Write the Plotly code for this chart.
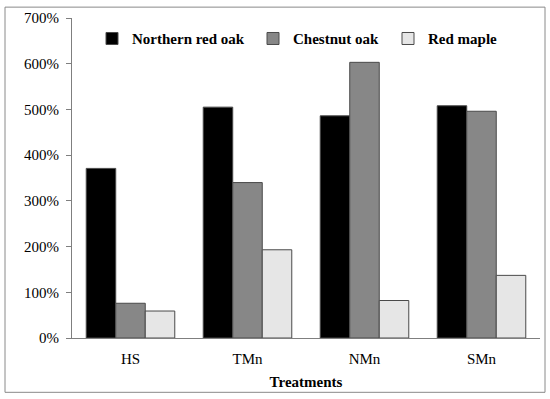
import plotly.graph_objects as go

categories = ["HS", "TMn", "NMn", "SMn"]
northern_red_oak = [371, 505, 486, 508]
chestnut_oak = [76, 340, 603, 496]
red_maple = [59, 193, 82, 137]
y_ticks = [0, 100, 200, 300, 400, 500, 600, 700]
y_tick_labels = [f"{v}%" for v in y_ticks]

FONT = "Liberation Serif"
fig = go.Figure()
series = [
    ("Northern red oak", northern_red_oak, "#000000", "legend"),
    ("Chestnut oak", chestnut_oak, "#878787", "legend2"),
    ("Red maple", red_maple, "#e6e6e6", "legend3"),
]
for name, vals, col, lg in series:
    fig.add_trace(go.Bar(x=categories, y=vals, name=f"<b>{name}</b>", legend=lg, showlegend=True,
                         marker=dict(color=col, line=dict(color="#4a4a4a", width=1))))

# legend text start positions (px) in the reference
text_px = [132, 293, 428]
lx = [(t - 72 - 40) / 468 for t in text_px]
ly = (338 - 35) / 324

def leg(x):
    return dict(x=x, y=ly, orientation="h", yanchor="middle", xanchor="left",
                bgcolor="rgba(0,0,0,0)", font=dict(family=FONT, size=15, color="black"))

fig.update_layout(
    width=550, height=399,
    margin=dict(l=72, r=10, t=14, b=61),
    paper_bgcolor="white", plot_bgcolor="white",
    barmode="group", bargap=0.243, bargroupgap=0,
    font=dict(family=FONT, size=14, color="black"),
    showlegend=True,
    legend=leg(lx[0]),
    legend2=leg(lx[1]),
    legend3=leg(lx[2]),
    xaxis=dict(showline=True, linecolor="#7f7f7f", linewidth=1, ticks="", showgrid=False,
               ticklabelstandoff=7,
               title=dict(text="<b>Treatments</b>", standoff=10, font=dict(size=15)),
               tickfont=dict(size=15)),
    yaxis=dict(range=[0, 700], tickvals=y_ticks, ticktext=y_tick_labels, showline=True,
               linecolor="#7f7f7f", linewidth=1, ticks="outside", ticklen=5, tickcolor="#7f7f7f",
               ticklabelstandoff=4,
               showgrid=False, zeroline=False, tickfont=dict(size=15)),
    shapes=[dict(type="rect", xref="paper", yref="paper",
                 x0=(5 - 72) / 468, x1=(545 - 72) / 468,
                 y0=(338 - 393) / 324, y1=(338 - 3) / 324,
                 line=dict(color="#8a8a8a", width=1), fillcolor="rgba(0,0,0,0)", layer="below")],
)

fig.write_html("out.html", config={"displayModeBar": False},
               post_script="document.body.style.margin='0';")
